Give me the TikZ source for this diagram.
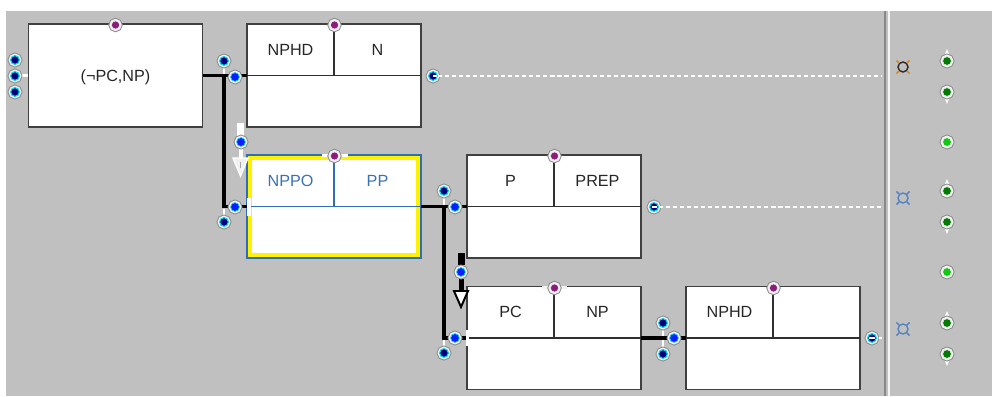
\documentclass[tikz,border=0pt]{standalone}
\usepackage{fontspec}
\setmainfont{Liberation Sans}
\usetikzlibrary{calc}

\definecolor{panel}{HTML}{C0C0C0}
\definecolor{boxline}{HTML}{404040}
\definecolor{divline}{HTML}{303030}
\definecolor{navydot}{HTML}{00007A}
\definecolor{bluedot}{HTML}{0A1EFF}
\definecolor{cyanring}{HTML}{00D8F0}
\definecolor{ringgray}{HTML}{8C8C8C}
\definecolor{ringwhite}{HTML}{F0F0F0}
\definecolor{purpdot}{HTML}{8A1C7C}
\definecolor{greendot}{HTML}{007A00}
\definecolor{litegreen}{HTML}{10C810}
\definecolor{selblue}{HTML}{2F6EB2}
\definecolor{seltext}{HTML}{3A72B4}
\definecolor{sepdark}{HTML}{888888}
\definecolor{currblue}{HTML}{5A86C0}
\definecolor{currdark}{HTML}{303030}
\definecolor{currorange}{HTML}{D08A30}

\begin{document}
\begin{tikzpicture}[x=0.025cm, y=-0.025cm,
  box/.style={draw=boxline, line width=1.2pt, fill=white,
    minimum width=4.35cm, minimum height=2.575cm, inner sep=0pt, outer sep=0pt},
  selbox/.style={box, draw=selblue, fill=yellow},
  divider/.style={draw=divline, line width=0.8pt},
  seldivider/.style={draw=selblue, line width=0.8pt},
  lab/.style={font=\fontsize{11.5}{13}\selectfont, inner sep=0pt, text=black!85},
  sellab/.style={lab, text=seltext},
  conn/.style={line width=2.5pt, black},
  stub/.style={line width=1.8pt, white},
  dashline/.style={white, line width=1.1pt, dash pattern=on 2.9pt off 2.1pt},
  port/.style={circle, inner sep=0pt, minimum size=6.2pt,
    preaction={draw=ringgray, line width=4.2pt},
    preaction={draw=ringwhite, line width=2.8pt}},
  navyport/.style={port, fill=navydot, draw=cyanring, line width=0.8pt},
  blueport/.style={port, fill=bluedot, draw=cyanring, line width=0.5pt},
  purpport/.style={port, minimum size=5.8pt, fill=purpdot, draw=ringwhite, line width=0.4pt},
  greenport/.style={port, fill=greendot, draw=ringwhite, line width=0.4pt},
  liteport/.style={port, fill=litegreen, draw=ringwhite, line width=0.4pt},
  currency/.style={line width=1.05pt},
]

% canvas
\useasboundingbox (0,0) rectangle (992,396);
\fill[white] (0,0) rectangle (992,396);
\fill[panel] (6,11) rectangle (992,396);

% column separator
\draw[sepdark, line width=1.5pt] (885,11) -- (885,396);
\draw[white!92!gray, line width=1.1pt] (889,11) -- (889,396);

% junction points of the tree connectors
\coordinate (j1) at (224,75.5);
\coordinate (j2) at (444,206.5);

% boxes
\node[box] (b1) at (115.5,75.5) {};
\node[box] (b2) at (334,75.5) {};
\node[selbox] (b3) at (334,206.5) {};
\node[box] (b4) at (554,206.5) {};
\node[box] (b5) at (554,338) {};
\node[box] (b6) at (773,338) {};

% connectors
\draw[conn] (b1.east) -- (j1) -- (b2.west);
\draw[conn] (j1) |- (b3.west);
\draw[conn] (b3.east) -- (j2) -- (b4.west);
\draw[conn] (j2) |- (b5.west);

% selected box: white interior inside the yellow band
\fill[white] ($(b3.north west)+(5,5)$) rectangle ($(b3.south east)+(-5,-5)$);

% field dividers
\foreach \b in {b2,b4,b5,b6} {
  \draw[divider] (\b.north) -- (\b.center);
  \draw[divider] (\b.west) -- (\b.east);
}
\draw[seldivider] (b3.north) -- (b3.center);
\draw[seldivider] (b3.west) -- (b3.east);

% openings in the borders
\fill[white] (246.5,198) rectangle (250.5,216);
\fill[white] (465.5,330) rectangle (468.5,346);
\fill[white] (322,153.5) rectangle (348,157);
\fill[white!90!gray] (542,285.5) rectangle (567,288.5);

% labels
\node[lab] (t1) at (115.5,77) {(¬PC,NP)};
\node[lab] (t2a) at (290.5,50) {NPHD};
\node[lab] (t2b) at (377.5,50) {N};
\node[sellab] (t3a) at (290.5,181) {NPPO};
\node[sellab] (t3b) at (377.5,181) {PP};
\node[lab] (t4a) at (510.5,181) {P};
\node[lab] (t4b) at (597.5,181) {PREP};
\node[lab] (t5a) at (510.5,312) {PC};
\node[lab] (t5b) at (597.5,312) {NP};
\node[lab] (t6a) at (729.5,312) {NPHD};

% port positions
\coordinate (a1) at (224,61);
\coordinate (a2) at (224,222);
\coordinate (a3) at (444,191);
\coordinate (a4) at (444,353);
\coordinate (a5) at (663,323);
\coordinate (a6) at (663,354);

% white stubs linking ports to the connectors
\draw[stub] (a1) -- ($(j1)+(0,-2)$);
\draw[stub] (a2) -- ($(j1 |- b3.west)+(0,2)$);
\draw[stub] (a3) -- ($(j2)+(0,-2)$);
\draw[stub] (a4) -- ($(j2 |- b5.west)+(0,2)$);
\draw[stub] (a5) -- (a6);
\draw[stub] (20,75.5) -- (b1.west);
\draw[conn] (b5.east) -- (b6.west);

% dashed continuation lines
\node[navyport] (q2) at (433,76) {};
\node[navyport] (q4) at (654,207) {};
\node[navyport] (q6) at (872,338) {};
\coordinate (e2) at (882,76);
\coordinate (e4) at (882,207);
\draw[dashline] (q2.east) -- (e2);
\draw[dashline] (q4.east) -- (e4);
\draw[white, line width=1pt] (879,338) -- (882,338);

% insertion marker above the selected box (white)
\fill[white] (237,123) rectangle (244,137);
\fill[white] (238.5,147) rectangle (243,160);
\filldraw[white, fill=white!88!gray, line width=1pt] (233,158) -- (248,158) -- (240.5,176) -- cycle;
\draw[gray!70, line width=0.6pt] (240.5,162) -- (240.5,168);

% insertion marker below the PP box (black)
\fill[black] (457.5,253) rectangle (464.5,265);
\fill[black] (458.5,279) rectangle (463.5,291);
\filldraw[black, fill=white, line width=1.4pt, line join=miter] (454,291) -- (468,291) -- (461,307) -- cycle;

% ports
\node[navyport] (l1) at (15,60) {};
\node[navyport] (l2) at (15,76) {};
\node[navyport] (l3) at (15,92) {};
\node[navyport] (p1) at (a1) {};
\node[blueport] (p2) at (235,77) {};
\node[blueport] (p3) at (235,207) {};
\node[navyport] (p4) at (a2) {};
\node[blueport] (p5) at (241,142) {};
\node[navyport] (p6) at (a3) {};
\node[blueport] (p7) at (455,207) {};
\node[blueport] (p8) at (455,338) {};
\node[navyport] (p9) at (a4) {};
\node[blueport] (p10) at (461,272) {};
\node[navyport] (p11) at (a5) {};
\node[blueport] (p12) at (674,338) {};
\node[navyport] (p13) at (a6) {};
\draw[white, line width=0.9pt] (433,76) -- (436.5,76);
\draw[white, line width=0.9pt] (651.5,207) -- (656.5,207);
\draw[white, line width=0.9pt] (869,338) -- (875,338);

\node[purpport] (m1) at (115.5,25) {};
\node[purpport] (m2) at (334.5,25) {};
\node[purpport] (m3) at (334.5,156) {};
\node[purpport] (m4) at (554.5,156) {};
\node[purpport] (m5) at (554.5,288) {};
\node[purpport] (m6) at (773.5,288) {};

% side column: currency markers
\foreach \n/\y/\c/\t in {c1/67/currdark/currorange, c2/198/currblue/currblue, c3/329/currblue/currblue} {
  \coordinate (\n) at (903,\y);
  \draw[\c, currency] (\n) circle[radius=5];
  \draw[\t, currency] ($(\n)+(-3.8,-3.8)$) -- ++(-2.8,-2.8);
  \draw[\t, currency] ($(\n)+(3.8,-3.8)$) -- ++(2.8,-2.8);
  \draw[\t, currency] ($(\n)+(-3.8,3.8)$) -- ++(-2.8,2.8);
  \draw[\t, currency] ($(\n)+(3.8,3.8)$) -- ++(2.8,2.8);
}

% side column: green handles
\foreach \n/\y in {g1/61, g4/191, g7/323} {
  \fill[white] (945,\y-7) -- (949,\y-7) -- (947,\y-12) -- cycle;
  \node[greenport] (\n) at (947,\y) {};
}
\foreach \n/\y in {g2/92, g5/222, g8/354} {
  \fill[white] (945,\y+7) -- (949,\y+7) -- (947,\y+12) -- cycle;
  \node[greenport] (\n) at (947,\y) {};
}
\node[liteport] (g3) at (947,142) {};
\node[liteport] (g6) at (947,272) {};

\end{tikzpicture}
\end{document}
